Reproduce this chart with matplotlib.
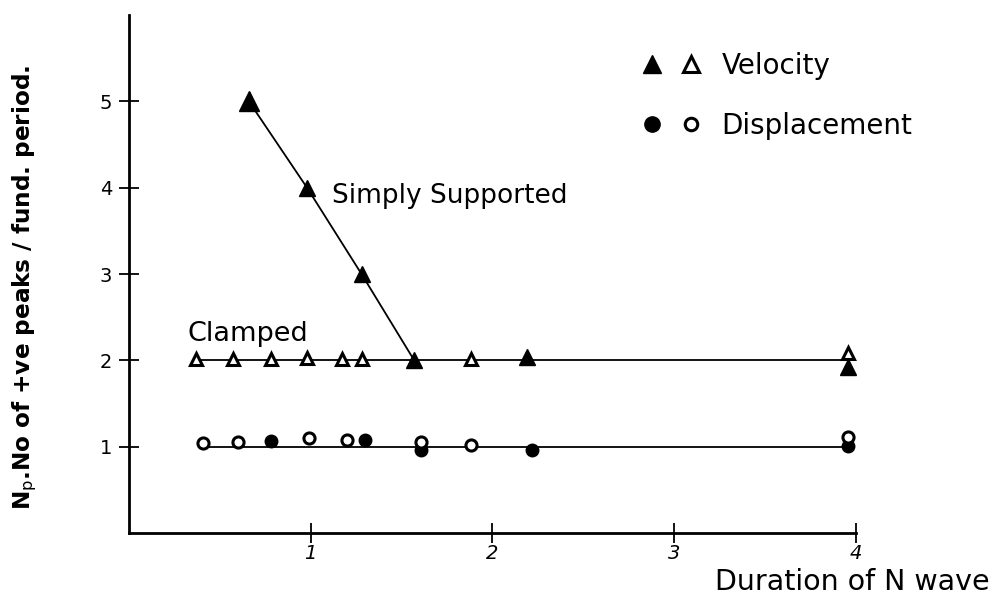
import matplotlib
matplotlib.use("Agg")
import matplotlib.pyplot as plt
from matplotlib.legend_handler import HandlerTuple
from matplotlib.lines import Line2D

# Simply supported (velocity, filled triangles)
ss_x = [0.66, 0.98, 1.28, 1.57]
ss_y = [5.0, 4.0, 3.0, 2.0]

# Clamped velocity points
vel_open_x = [0.37, 0.57, 0.78, 0.98, 1.17, 1.28, 1.88, 3.96]
vel_open_y = [2.02, 2.02, 2.02, 2.03, 2.02, 2.02, 2.02, 2.08]
vel_filled_x = [2.19, 3.96]
vel_filled_y = [2.04, 1.92]

# Displacement points
disp_open_x = [0.41, 0.60, 0.99, 1.20, 1.61, 1.88, 3.96]
disp_open_y = [1.04, 1.05, 1.10, 1.08, 1.05, 1.02, 1.11]
disp_filled_x = [0.78, 1.30, 1.61, 2.22, 3.96]
disp_filled_y = [1.07, 1.08, 0.96, 0.96, 1.01]

# fitted lines
vel_line_x = [0.37, 3.96]
vel_line_y = [2.0, 2.0]
disp_line_x = [0.41, 3.96]
disp_line_y = [1.0, 1.0]

xticks = [1, 2, 3, 4]
yticks = [1, 2, 3, 4, 5]

plt.rcParams["font.family"] = "DejaVu Sans"

fig = plt.figure(figsize=(9.95, 6.03), dpi=100)
ax = fig.add_axes([0.1296, 0.1161, 0.7304, 0.859])

ax.plot(ss_x, ss_y, color="black", lw=1.3, zorder=2)
ax.plot(vel_line_x, vel_line_y, color="black", lw=1.3, zorder=2)
ax.plot(disp_line_x, disp_line_y, color="black", lw=1.3, zorder=2)

ax.plot(ss_x[:1], ss_y[:1], "^", color="black", ms=15, zorder=3)
ax.plot(ss_x[1:], ss_y[1:], "^", color="black", ms=12, zorder=3)
ax.plot(vel_filled_x, vel_filled_y, "^", color="black", ms=11, zorder=3)
ax.plot(vel_open_x, vel_open_y, "^", mfc="white", mec="black", mew=2.2, ms=9, zorder=3)
ax.plot(disp_filled_x, disp_filled_y, "o", color="black", ms=9, zorder=3)
ax.plot(disp_open_x, disp_open_y, "o", mfc="white", mec="black", mew=2.2, ms=8, zorder=4)

ax.text(1.12, 3.82, "Simply Supported", fontsize=19)
ax.text(0.32, 2.22, "Clamped", fontsize=19.5)

ax.set_xlim(0, 4)
ax.set_ylim(0, 6)
ax.set_xticks(xticks)
ax.set_yticks(yticks)
ax.set_xticklabels([str(t) for t in xticks], fontsize=14, style="italic")
ax.set_yticklabels([str(t) for t in yticks], fontsize=14)
ax.tick_params(direction="inout", length=14, width=1.3)
ax.tick_params(axis="x", pad=1)
ax.tick_params(axis="y", pad=5)
for s in ["top", "right"]:
    ax.spines[s].set_visible(False)
for s in ["left", "bottom"]:
    ax.spines[s].set_linewidth(2)

fig.text(0.025, 0.523, r"N$_\mathrm{p}$.No of +ve peaks / fund. period.",
         rotation=90, fontsize=16.7, fontweight="bold", ha="center", va="center")
fig.text(0.995, 0.035, "Duration of N wave", fontsize=20.5, ha="right", va="center")

h_vel = (Line2D([], [], ls="", marker="^", color="black", ms=13),
         Line2D([], [], ls="", marker="^", mfc="white", mec="black", mew=2.2, ms=11))
h_disp = (Line2D([], [], ls="", marker="o", color="black", ms=11),
          Line2D([], [], ls="", marker="o", mfc="white", mec="black", mew=2.2, ms=9))
fig.legend([h_vel, h_disp], ["Velocity", "Displacement"],
           handler_map={tuple: HandlerTuple(ndivide=None, pad=0.8)},
           loc="upper left", bbox_to_anchor=(0.622, 0.955), frameon=False,
           fontsize=20, handlelength=2.0, labelspacing=1.15, handletextpad=0.8)

fig.savefig("out.png", dpi=100)
